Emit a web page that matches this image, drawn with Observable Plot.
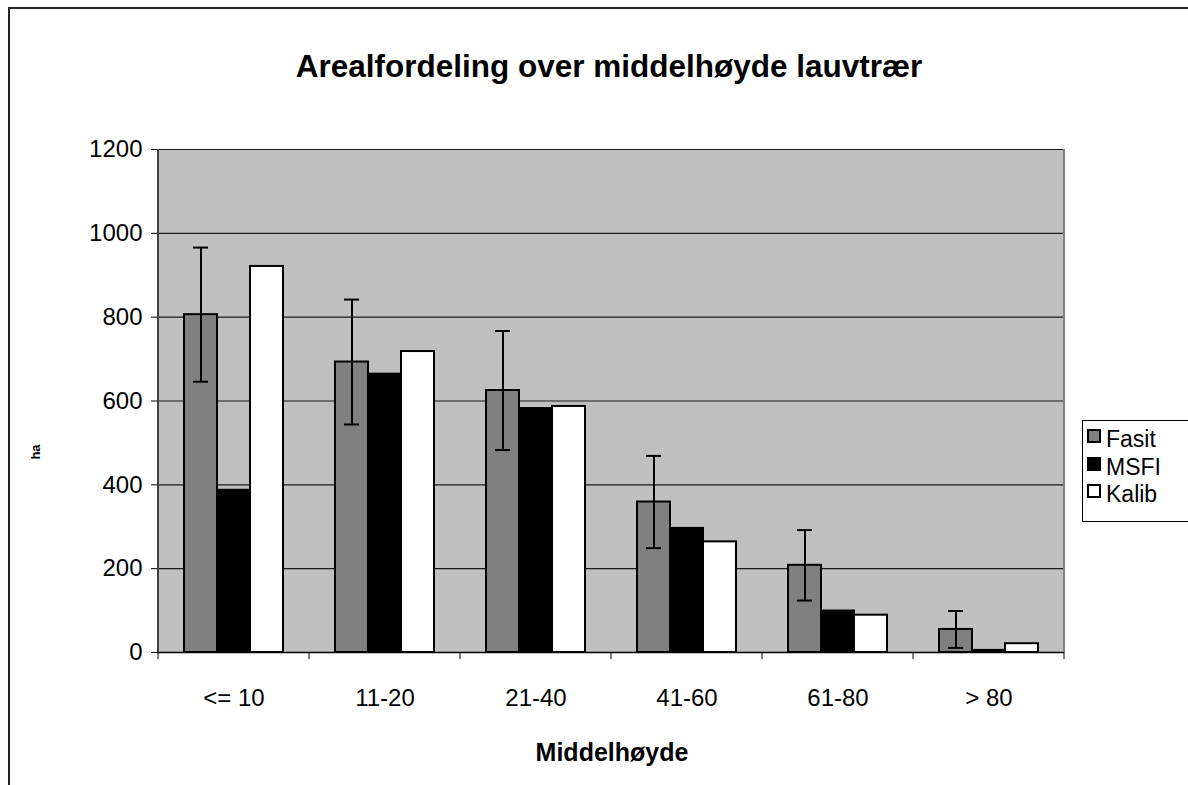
<!DOCTYPE html>
<html><head><meta charset="utf-8">
<script src="https://cdn.jsdelivr.net/npm/d3@7"></script>
<script src="https://cdn.jsdelivr.net/npm/@observablehq/plot@0.6"></script>
<style>
body{margin:0;background:#fff;font-family:"Liberation Sans",Arial,sans-serif;}
#wrap{position:relative;width:1188px;height:785px;overflow:hidden;}
#border{position:absolute;left:8px;top:7px;width:2000px;height:2000px;border-left:2px solid #222;border-top:2px solid #222;}
#title{position:absolute;left:0;width:1218px;top:50px;line-height:32px;text-align:center;font-weight:bold;font-size:31.5px;}
#xlabel{position:absolute;left:0;width:1224px;top:739px;line-height:26px;text-align:center;font-weight:bold;font-size:25px;}
#ylabel{position:absolute;left:35px;top:452px;transform:translate(-50%,-50%) rotate(-90deg);font-weight:bold;font-size:13px;line-height:13px;}
#chart{position:absolute;left:0;top:0;}
#legend{position:absolute;left:1082px;top:420px;width:130px;height:100px;border:1px solid #000;background:#fff;}
.item{position:absolute;left:4px;font-size:23px;line-height:23px;display:flex;align-items:center;}
.sw{width:10px;height:10px;border:2px solid #000;margin-right:5px;margin-top:-7px;}
</style></head>
<body>
<div id="wrap">
  <div id="border"></div>
  <div id="chart"></div>
  <div id="title">Arealfordeling over middelhøyde lauvtrær</div>
  <div id="xlabel">Middelhøyde</div>
  <div id="ylabel">ha</div>
  <div id="legend"></div>
</div>
<script>
const categories = ["<= 10", "11-20", "21-40", "41-60", "61-80", "> 80"];
const series = ["Fasit", "MSFI", "Kalib"];
const seriesColors = ["#808080", "#000000", "#ffffff"];
const fasit = [806, 693, 625, 359, 208, 55];
const fasitErr = [160, 149, 142, 110, 84, 44];
const msfi = [387, 664, 582, 296, 99, 5];
const kalib = [921, 718, 587, 264, 89, 21];
const yTicks = [0, 200, 400, 600, 800, 1000, 1200];

const seriesValues = [fasit, msfi, kalib];
const rows = categories.flatMap((c, i) => series.map((s, k) => ({category: c, series: s, value: seriesValues[k][i]})));
const errRows = categories.map((c, i) => ({category: c, series: "Fasit", low: fasit[i] - fasitErr[i], high: fasit[i] + fasitErr[i]}));

const plot = Plot.plot({
  width: 1188, height: 785,
  marginLeft: 155, marginRight: 122, marginTop: 149, marginBottom: 133,
  style: {fontFamily: '"Liberation Sans", Arial, sans-serif', fontSize: "24px", color: "#000", background: "transparent", overflow: "visible"},
  fx: {domain: categories, padding: 0, label: null, axis: null},
  x: {domain: series, paddingInner: 0, paddingOuter: 0.73, axis: null},
  y: {domain: [0, 1200], label: null, axis: null},
  color: {domain: series, range: seriesColors},
  marks: [
    Plot.frame({fill: "#c0c0c0", stroke: "#c0c0c0", strokeWidth: 1}),
    Plot.ruleY(yTicks.filter(v => v > 0), {stroke: "#1a1a1a", strokeWidth: 1.2}),
    Plot.axisY({ticks: yTicks, tickFormat: d3.format("d"), tickSize: 7, tickPadding: 9, label: null, fontSize: 24}),
    Plot.axisFx({anchor: "bottom", tickSize: 0, tickPadding: 36, label: null, fontSize: 24}),
    Plot.barY(rows, {fx: "category", x: "series", y: "value", fill: "series", stroke: "#000", strokeWidth: 2}),
    Plot.ruleX(errRows, {fx: "category", x: "series", y1: "low", y2: "high", stroke: "#000", strokeWidth: 2}),
    Plot.tickY(errRows, {fx: "category", x: "series", y: "low", insetLeft: 9, insetRight: 9, stroke: "#000", strokeWidth: 2}),
    Plot.tickY(errRows, {fx: "category", x: "series", y: "high", insetLeft: 9, insetRight: 9, stroke: "#000", strokeWidth: 2}),
    Plot.ruleY([0], {stroke: "#000", strokeWidth: 1.5})
  ]
});
document.getElementById("chart").appendChild(plot);

// axis lines and category boundary ticks from the library's scales
const fx = plot.scale("fx");
const y = plot.scale("y");
const y0 = y.apply(0), y1 = y.apply(1200);
const left = fx.apply(categories[0]);
const right = fx.apply(categories[categories.length - 1]) + fx.step;
const g = d3.select(plot).append("g");
g.append("line").attr("x1", left).attr("x2", left).attr("y1", y1).attr("y2", y0).attr("stroke", "#404040").attr("stroke-width", 2);
g.append("line").attr("x1", right).attr("x2", right).attr("y1", y1).attr("y2", y0).attr("stroke", "#808080").attr("stroke-width", 2);
const bounds = categories.map(c => fx.apply(c)).concat([right]);
g.selectAll(".bt").data(bounds).join("line").attr("x1", d => d).attr("x2", d => d).attr("y1", y0).attr("y2", y0 + 7).attr("stroke", "#000").attr("stroke-width", 1);

// legend
const leg = document.getElementById("legend");
series.forEach((s, k) => {
  const it = document.createElement("div");
  it.className = "item";
  it.style.top = (7 + k * 27.5) + "px";
  const sw = document.createElement("div");
  sw.className = "sw";
  sw.style.background = seriesColors[k];
  it.appendChild(sw);
  it.appendChild(document.createTextNode(s));
  leg.appendChild(it);
});
</script>
</body></html>
